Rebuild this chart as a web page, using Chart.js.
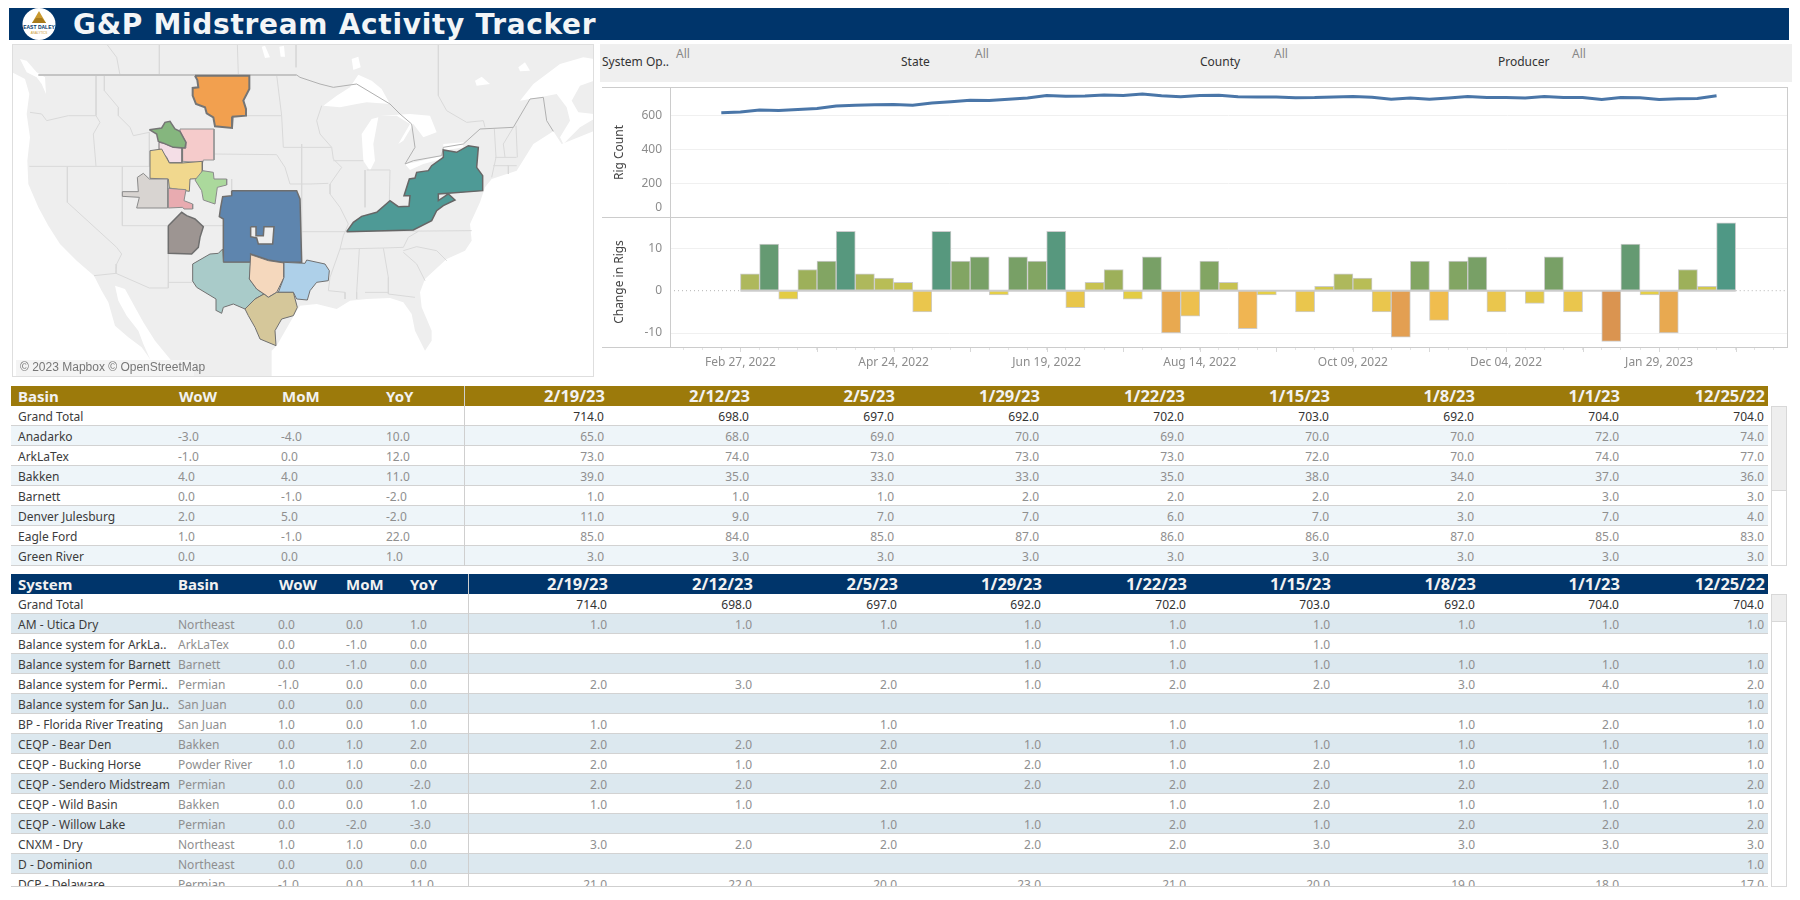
<!DOCTYPE html>
<html><head><meta charset="utf-8">
<script src="https://cdn.jsdelivr.net/npm/chart.js@4"></script>
<style>
html,body{margin:0;padding:0;background:#fff;width:1800px;height:900px;overflow:hidden;font-family:"Noto Sans",sans-serif}
.abs{position:absolute}
canvas{position:absolute;display:block}
.t{position:absolute;white-space:nowrap;line-height:20px;height:20px}
</style></head><body>
<div id="page"></div>
<script>
/* ---------- chart data ---------- */
const weekDates=['2022-02-20','2022-02-27','2022-03-06','2022-03-13','2022-03-20','2022-03-27','2022-04-03','2022-04-10','2022-04-17','2022-04-24','2022-05-01','2022-05-08','2022-05-15','2022-05-22','2022-05-29','2022-06-05','2022-06-12','2022-06-19','2022-06-26','2022-07-03','2022-07-10','2022-07-17','2022-07-24','2022-07-31','2022-08-07','2022-08-14','2022-08-21','2022-08-28','2022-09-04','2022-09-11','2022-09-18','2022-09-25','2022-10-02','2022-10-09','2022-10-16','2022-10-23','2022-10-30','2022-11-06','2022-11-13','2022-11-20','2022-11-27','2022-12-04','2022-12-11','2022-12-18','2022-12-25','2023-01-01','2023-01-08','2023-01-15','2023-01-22','2023-01-29','2023-02-05','2023-02-12','2023-02-19'];
const rigCount=[615,619,630,628,633,640,654,658,661,663,658,672,679,687,686,694,701,715,711,713,718,716,724,714,708,715,717,708,707,707,702,703,707,710,705,694,701,694,701,709,704,704,701,709,704,704,692,703,702,692,697,698,714];
const rigChange=[null,4,11,-2,5,7,14,4,3,2,-5,14,7,8,-1,8,7,14,-4,2,5,-2,8,-10,-6,7,2,-9,-1,0,-5,1,4,3,-5,-11,7,-7,7,8,-5,0,-3,8,-5,0,-12,11,-1,-10,5,1,16];
const rigTicks=[0,200,400,600];
const changeTicks=[-10,0,10];

/* ---------- table data ---------- */
const tableDates=['2/19/23','2/12/23','2/5/23','1/29/23','1/22/23','1/15/23','1/8/23','1/1/23','12/25/22'];
const grandTotal=[714,698,697,692,702,703,692,704,704];
const basinNames=['Anadarko','ArkLaTex','Bakken','Barnett','Denver Julesburg','Eagle Ford','Green River'];
const basinDeltas=[[-3,-4,10],[-1,0,12],[4,4,11],[0,-1,-2],[2,5,-2],[1,-1,22],[0,0,1]];
const basinWeekly=[
[65,68,69,70,69,70,70,72,74],
[73,74,73,73,73,72,70,74,77],
[39,35,33,33,35,38,34,37,36],
[1,1,1,2,2,2,2,3,3],
[11,9,7,7,6,7,3,7,4],
[85,84,85,87,86,86,87,85,83],
[3,3,3,3,3,3,3,3,3]];
const systemNames=['AM - Utica Dry','Balance system for ArkLa..','Balance system for Barnett','Balance system for Permi..','Balance system for San Ju..','BP - Florida River Treating','CEQP - Bear Den','CEQP - Bucking Horse','CEQP - Sendero Midstream','CEQP - Wild Basin','CEQP - Willow Lake','CNXM - Dry','D - Dominion','DCP - Delaware'];
const systemBasins=['Northeast','ArkLaTex','Barnett','Permian','San Juan','San Juan','Bakken','Powder River','Permian','Bakken','Permian','Northeast','Northeast','Permian'];
const systemDeltas=[[0,0,1],[0,-1,0],[0,-1,0],[-1,0,0],[0,0,0],[1,0,1],[0,1,2],[1,1,0],[0,0,-2],[0,0,1],[0,-2,-3],[1,1,0],[0,0,0],[-1,0,11]];
const _=null;
const systemWeekly=[
[1,1,1,1,1,1,1,1,1],
[_,_,_,1,1,1,_,_,_],
[_,_,_,1,1,1,1,1,1],
[2,3,2,1,2,2,3,4,2],
[_,_,_,_,_,_,_,_,1],
[1,_,1,_,1,_,1,2,1],
[2,2,2,1,1,1,1,1,1],
[2,1,2,2,1,2,1,1,1],
[2,2,2,2,2,2,2,2,2],
[1,1,_,_,1,2,1,1,1],
[_,_,1,1,2,1,2,2,2],
[3,2,2,2,2,3,3,3,3],
[_,_,_,_,_,_,_,_,1],
[21,22,20,23,21,20,19,18,17]];

/* ---------- map geometry, in map units (flat x,y lists) ---------- */
const waterPacific=[6,85,45,105,58,150,50,210,60,280,52,350,55,420,85,490,115,545,150,600,200,650,252,695,275,740,295,775,315,845,355,880,395,910,420,945,430,999,6,999];
const waterCalifornia=[315,725,345,735,375,790,400,835,435,890,480,945,515,999,430,999,420,945,400,900,385,860,350,815,325,770];
const waterPuget=[30,45,50,50,80,85,105,100,108,150,95,120,80,100,50,85];
const waterAtlantic=[785,999,785,920,800,905,860,800,870,785,920,780,980,795,1020,770,1070,765,1140,762,1180,775,1205,810,1215,860,1245,920,1265,890,1265,860,1235,790,1230,745,1245,705,1310,645,1365,620,1385,590,1380,540,1410,475,1425,430,1445,405,1520,380,1570,300,1630,262,1655,300,1750,262,1752,999];
const waterStLawrence=[1530,170,1570,120,1650,60,1720,40,1752,45,1752,110,1710,125,1685,170,1705,205,1752,210,1752,225,1710,250,1660,300,1650,280,1680,230,1670,190,1640,150,1590,160];
const lakeSuperior=[940,185,980,155,1020,130,1045,92,1085,110,1115,135,1140,180,1070,175,1040,180,990,190];
const lakeMichigan=[1060,350,1055,270,1085,225,1105,220,1090,300,1095,350,1080,380];
const lakeHuron=[1110,215,1200,210,1260,215,1280,265,1240,280,1210,240,1180,290,1165,300,1200,240,1160,215];
const lakeErie=[1185,360,1215,355,1295,335,1295,345,1240,360,1200,378];
const lakeOntario=[1300,300,1360,295,1360,310,1300,320];
const lakeNipigon=[1025,45,1045,38,1052,70,1030,78];
const lakeNorthA=[1395,110,1415,98,1440,120,1400,125];
const lakeNorthB=[1525,70,1545,55,1560,80,1530,82];
const lakeWest=[755,8,765,5,780,40,765,42];
const lakeWestB=[808,8,822,5,825,38,812,38];
const landWaterShapes=[waterPacific,waterCalifornia,waterPuget,waterAtlantic,waterStLawrence,lakeSuperior,lakeMichigan,lakeHuron,lakeErie,lakeOntario,lakeNipigon,lakeNorthA,lakeNorthB,lakeWest,lakeWestB];
const countryBorders=[
[85,93,860,93],
[860,93,870,100,930,120,970,130,1040,120,1140,180,1170,210,1205,240,1215,310,1185,360,1210,350,1295,335,1300,310,1360,300,1410,255,1510,250,1560,165,1600,160,1610,230,1630,262]];
const stateBorders=[
[60,205,95,210,110,230,175,215,258,215],
[258,93,258,215,270,235,250,270,258,367],
[283,93,283,140,325,190,325,215,360,250,370,275,418,265,418,367],
[58,367,420,367],
[172,367,172,475,320,610,335,630,320,660,318,690],
[337,367,337,545],
[337,545,640,545],
[252,695,318,688,418,732,475,732,475,715,547,715],
[475,545,475,732],
[612,330,800,332,825,370,840,420,900,420,955,418],
[708,215,815,215],
[800,93,815,215,820,310,900,310,965,310],
[665,405,665,440],
[448,0,448,93],[682,0,685,93],[290,0,320,40,330,93],[858,0,858,70],
[640,545,870,563,990,563,1010,563,1385,560],
[935,185,920,230,930,270,965,310,970,345,995,370,960,420,960,450,990,490,1015,540,1000,575,990,615,960,700,955,740,1005,745,1005,765],
[970,350,1060,350],[1065,378,1065,490],[1070,378,1140,378,1138,470],
[990,615,1120,612,1180,610,1195,580,1225,562],
[1048,615,1040,745,1040,765],[1120,612,1135,700,1135,750,1215,760],[1065,745,1135,745],
[1180,620,1220,608,1280,620,1310,650],[1245,710,1220,660,1180,625],
[1285,0,1285,155,1310,200,1370,235,1420,230,1425,250],
[1453,255,1458,340,1445,400],[1455,340,1520,340],[1450,365,1520,365],[1485,340,1480,300,1510,250],[1518,245,1522,340],[1495,365,1495,390],
[875,300,875,655],[890,650,890,730]];
const basinBakken=[555,95,718,95,718,135,700,170,708,195,708,215,668,218,666,252,615,247,610,220,590,208,585,190,558,180,548,155,548,132,565,130,562,108];
const basinBigHorn=[418,257,455,252,465,235,480,232,495,255,510,262,528,295,525,312,490,310,462,298,445,292,440,270];
const basinPowder=[510,255,612,255,612,348,580,348,578,356,518,352,518,312,528,312,528,295,510,262];
const basinGreenRiver=[447,295,462,298,490,310,516,312,516,356,478,356,470,340,448,315];
const basinDenver=[420,320,455,315,478,357,516,357,577,352,577,403,540,405,538,442,478,432,475,405,420,403];
const basinNiobrara=[555,408,578,380,610,385,612,405,650,405,650,423,622,430,615,480,580,468,575,440];
const basinUinta=[337,443,385,443,382,400,400,388,418,405,473,405,473,492,380,492,388,460,337,457];
const basinPiceance=[475,433,528,437,522,470,548,480,548,495,522,495,518,490,475,492];
const basinSanJuan=[475,545,515,505,530,515,555,525,580,548,570,580,565,610,545,630,475,628];
const basinAnadarko=[665,440,860,440,870,465,875,655,815,655,775,648,722,630,722,655,640,655,640,525,628,518,632,490,638,458,665,455];
const basinAnadarkoHole=[722,548,738,548,738,575,760,575,762,548,792,548,788,600,745,600,740,582,722,578];
const basinPermian=[548,660,600,630,625,628,638,615,640,655,722,655,718,705,740,735,762,750,735,765,705,795,670,780,640,790,635,808,620,800,618,765,560,730,547,710];
const basinBarnett=[722,632,775,650,822,657,822,700,800,745,775,760,762,750,740,735,718,705];
const basinArkLaTex=[822,655,885,658,890,648,945,660,958,680,955,710,920,715,900,740,892,768,860,765,850,745,805,745,822,700];
const basinEagleFord=[705,795,735,765,762,750,775,760,800,745,850,745,862,790,850,815,815,825,795,860,798,905,750,885,735,850,715,815];
const basinNortheast=[1010,563,1030,535,1055,517,1100,505,1140,470,1165,488,1197,487,1200,455,1182,455,1198,405,1215,402,1220,385,1255,380,1265,365,1300,340,1300,318,1340,325,1375,305,1405,310,1400,370,1418,395,1418,440,1285,450,1285,470,1315,450,1335,468,1300,485,1280,500,1265,530,1210,558];
const basinShapes=[
 [basinBakken,'#f2a04f','#757575',2],
 [basinPowder,'#f5cbcb','#969696',1],
 [basinGreenRiver,'#f4dee6','#757575',1],
 [basinBigHorn,'#85b67e','#757575',1.5],
 [basinDenver,'#f1d88e','#757575',1],
 [basinNiobrara,'#abd99c','#8a8a8a',1],
 [basinUinta,'#d8d4d1','#8a8a8a',1],
 [basinPiceance,'#e8abb0','#8a8a8a',1],
 [basinSanJuan,'#9d9592','#6e6e6e',1.5],
 [basinAnadarko,'#5e85ae','#6e6e6e',1.5],
 [basinAnadarkoHole,'#efefef','#6e6e6e',1.5],
 [basinPermian,'#a9cbc9','#707070',1],
 [basinBarnett,'#f5d8bd','#707070',1],
 [basinArkLaTex,'#aed0e9','#707070',1],
 [basinEagleFord,'#d5c79a','#707070',1],
 [basinNortheast,'#4e9a96','#666',1.5]];

/* ---------- styles ---------- */
const changeColors={'-12':'#da9450','-11':'#e39f52','-10':'#e8a950','-9':'#f0b552','-7':'#f0bd4e','-6':'#edc04e','-5':'#eac64d','-4':'#e8c64a','-3':'#e3c849','-2':'#e3cc44','-1':'#e5cf47','0':'#cccccc','1':'#d2c84c','2':'#c7c250','3':'#b8bd56','4':'#aeb85c','5':'#9db05a','7':'#82a563','8':'#78a066','11':'#659a72','14':'#57987e','16':'#4f9885'};
const FONT='"Noto Sans"';
const GRID='#f0f0f0',LINE='#cccccc';
const page=document.getElementById('page');
function box(l,t,w,h,bg,extra){const d=document.createElement('div');d.className='abs';d.style.cssText+=`left:${l}px;top:${t}px;width:${w}px;height:${h}px;background:${bg};${extra||''}`;page.appendChild(d);return d;}
function text(parent,str,x,y,opts){opts=opts||{};const s=document.createElement('div');s.className='t';s.textContent=str;
 s.style.top=y+'px';
 if(opts.right!==undefined){s.style.right=(opts.parentW-opts.right)+'px';}else s.style.left=x+'px';
 s.style.fontSize=(opts.size||12)+'px';s.style.color=opts.color||'#444';if(opts.bold)s.style.fontWeight='700';
 if(opts.family)s.style.fontFamily=opts.family;if(opts.ls)s.style.letterSpacing=opts.ls;
 parent.appendChild(s);return s;}
function canvasAt(l,t,w,h){const c=document.createElement('canvas');c.width=w;c.height=h;c.style.left=l+'px';c.style.top=t+'px';c.style.width=w+'px';c.style.height=h+'px';page.appendChild(c);return c.getContext('2d');}
Chart.defaults.animation=false;
Chart.defaults.font.family=FONT;
Chart.defaults.responsive=false;

/* ---------- title ---------- */
box(9,8,1780,32,'#00356b');
const logo=document.createElement('div');logo.className='abs';logo.style.cssText='left:22px;top:8px;width:34px;height:32px';
logo.innerHTML='<svg width="34" height="32" viewBox="0 0 34 32"><ellipse cx="17" cy="16" rx="16.5" ry="16" fill="#fff"/><path d="M17 3 L10 15 L24 15 Z" fill="#c9992f"/><path d="M14 10 L20 10 L24 15 L10 15 Z" fill="#a87a1c"/><text x="17" y="20.5" font-size="5" font-weight="700" text-anchor="middle" fill="#00356b" font-family="Liberation Sans">EAST DALEY</text><text x="17" y="25.5" font-size="3" text-anchor="middle" fill="#c9992f" font-family="Liberation Sans">ANALYTICS</text></svg>';
page.appendChild(logo);
const titleEl=text(page,'G&P Midstream Activity Tracker',73,9,{size:28,bold:true,color:'#f3f5f7',family:'"DejaVu Sans"',ls:'0.7px'});
titleEl.style.lineHeight='32px';titleEl.style.height='32px';

/* ---------- filters ---------- */
box(600,44,1192,38,'#efefef');
const filterLabels=[['System Op..',602,676],['State',901,975],['County',1200,1274],['Producer',1498,1572]];
filterLabels.forEach(([lab,x,ax])=>{text(page,lab,x,52,{size:12,color:'#333'});text(page,'All',ax,44,{size:12,color:'#888'});});

/* ---------- map ---------- */
box(12,44,582,333,'#eeeeee');
const pts=f=>{const o=[];for(let i=0;i<f.length;i+=2)o.push({x:f[i],y:f[i+1]});return o;};
const closed=f=>pts(f.concat([f[0],f[1]]));
const mapDs=[];
landWaterShapes.forEach(s=>mapDs.push({data:closed(s),backgroundColor:'#ffffff',borderWidth:0,fill:'shape',pointRadius:0}));
stateBorders.forEach(s=>mapDs.push({data:pts(s),borderColor:'#d9d9d9',borderWidth:1,fill:false,pointRadius:0}));
countryBorders.forEach((s,i)=>mapDs.push({data:pts(s),borderColor:i?'#b0b0b0':'#c4c4c4',borderWidth:i?1:2,fill:false,pointRadius:0}));
basinShapes.forEach(([s,c,b,w])=>mapDs.push({data:closed(s),backgroundColor:c,borderColor:b,borderWidth:w,fill:'shape',pointRadius:0}));
mapDs.forEach((d,i)=>{d.order=mapDs.length-i;d.showLine=true;d.tension=0;});
new Chart(canvasAt(12,44,582,333),{type:'scatter',data:{datasets:mapDs},options:{
 layout:{padding:0},plugins:{legend:{display:false},tooltip:{enabled:false}},
 scales:{x:{type:'linear',min:6,max:1752,display:false},y:{type:'linear',min:0,max:999,reverse:true,display:false}}}});
box(12,44,580,331,'transparent','border:1px solid #dedede;');
box(16,360,178,16,'#f4f4f4');
text(page,'© 2023 Mapbox © OpenStreetMap',20,357,{size:12,color:'#777',family:'"Liberation Sans"'});

/* ---------- weekly charts ---------- */
const DAY=86400000,WEEK=7*DAY;
const toMs=s=>Date.parse(s+'T00:00:00Z');
const axisAnchor=toMs('2022-02-27');
const axisMin=axisAnchor-3.68*WEEK,axisMax=axisAnchor+54.68*WEEK;
const months=['Jan','Feb','Mar','Apr','May','Jun','Jul','Aug','Sep','Oct','Nov','Dec'];
const fmtDate=v=>{const d=new Date(v);return months[d.getUTCMonth()]+' '+String(d.getUTCDate()).padStart(2,'0')+', '+d.getUTCFullYear();};
const weekOf=v=>Math.round((v-axisAnchor)/WEEK);
const tickFont={size:12,family:FONT};
const noPad=s=>{s.paddingTop=0;s.paddingBottom=0;s.paddingLeft=0;s.paddingRight=0;};
const yAxis=(title,min,max,padTitle)=>({type:'linear',min,max,
 afterFit(s){s.width=68;noPad(s);},
 border:{display:false},
 grid:{color:GRID,lineWidth:1,drawTicks:false},
 title:{display:true,text:title,color:'#444',font:{size:12,family:FONT},padding:{top:padTitle,bottom:0}},
 ticks:{stepSize:1,includeBounds:false,padding:8,color:'#8c8c8c',font:tickFont}});

/* Top: rig count */
const topY=yAxis('Rig Count',0,765,10);
topY.afterBuildTicks=s=>{s.ticks=rigTicks.map(v=>({value:v}));};
topY.ticks.callback=v=>v===0?'':String(v);
const zeroLabel={id:'zeroLabel',afterDraw(c){const s=c.scales.y,g=c.ctx;g.save();g.font='12px '+FONT;g.fillStyle='#8c8c8c';g.textAlign='right';g.textBaseline='middle';g.fillText('0',s.right-8,s.getPixelForValue(0)-10);g.restore();}};
new Chart(canvasAt(602,87,1186,131),{type:'line',
 data:{datasets:[{data:weekDates.map((d,i)=>({x:toMs(d),y:rigCount[i]})),borderColor:'#4a76a8',borderWidth:3,pointRadius:0,tension:0,fill:false,clip:false}]},
 options:{layout:{padding:{left:0,right:1,top:0,bottom:0}},plugins:{legend:{display:false},tooltip:{enabled:false}},
 scales:{x:{type:'linear',min:axisMin,max:axisMax,display:false},y:topY}},plugins:[zeroLabel]});

/* Bottom: change in rigs */
const botY=yAxis('Change in Rigs',-13.3,17.4,10);
botY.afterBuildTicks=s=>{s.ticks=changeTicks.map(v=>({value:v}));};
botY.ticks.callback=v=>String(v);
botY.grid.color=c=>c.tick&&c.tick.value===0?'rgba(0,0,0,0)':GRID;
const longTicks={id:'longTicks',afterDraw(c){const s=c.scales.x,g=c.ctx;g.save();g.strokeStyle='#d8d8d8';g.lineWidth=1;
 for(let k=-3;k<=54;k++){if(k%4!==0)continue;const x=Math.round(s.getPixelForValue(axisAnchor+k*WEEK))+.5;g.beginPath();g.moveTo(x,s.top);g.lineTo(x,s.top+5);g.stroke();}g.restore();}};
const firstBarMs=toMs('2022-02-27'),lastBarEndMs=toMs('2023-02-26');
const barData=weekDates.map((d,i)=>({x:toMs(d),y:rigChange[i]})).filter(p=>p.y!==null);
new Chart(canvasAt(602,217,1186,163),{type:'bar',
 data:{datasets:[
  {type:'line',xAxisID:'x',data:[{x:firstBarMs,y:0},{x:lastBarEndMs,y:0}],borderColor:LINE,borderWidth:2,pointRadius:0,fill:false,order:3},
  {type:'line',xAxisID:'x',data:[{x:axisMin,y:0},{x:firstBarMs,y:0}],borderColor:'#b5b5b5',borderWidth:1,borderDash:[1,3],pointRadius:0,fill:false,order:1},
  {type:'line',xAxisID:'x',data:[{x:lastBarEndMs,y:0},{x:axisMax,y:0}],borderColor:'#b5b5b5',borderWidth:1,borderDash:[1,3],pointRadius:0,fill:false,order:1},
  {type:'bar',xAxisID:'xb',grouped:false,data:barData,backgroundColor:barData.map(p=>changeColors[String(p.y)]),borderColor:LINE,borderWidth:1,borderSkipped:false,barPercentage:1,categoryPercentage:1,order:2}]},
 options:{layout:{padding:{left:0,right:1,top:0,bottom:0}},plugins:{legend:{display:false},tooltip:{enabled:false}},
 scales:{
  x:{type:'linear',offset:false,min:axisMin,max:axisMax,
   afterFit(s){s.height=33;noPad(s);},
   afterBuildTicks(s){const out=[];for(let k=-3;k<=54;k++)out.push({value:axisAnchor+k*WEEK});s.ticks=out;},
   border:{display:false},
   grid:{offset:false,drawOnChartArea:false,tickLength:3,tickColor:'#e4e4e4'},
   ticks:{autoSkip:false,maxRotation:0,minRotation:0,padding:5,color:'#8c8c8c',font:tickFont,callback:v=>{const k=weekOf(v);return k>=0&&k%8===0&&k<=48?fmtDate(v):'';}}},
  xb:{type:'linear',offset:false,display:false,min:axisMin-WEEK/2,max:axisMax-WEEK/2,
   afterBuildTicks(s){s.ticks=[{value:axisAnchor}];}},
  y:botY}},plugins:[longTicks]});

/* Frame lines for the chart panel */
box(602,87,1186,1,LINE);box(602,217,1186,1,LINE);box(602,347,1186,1,LINE);
box(670,87,1,261,LINE);box(1787,87,1,261,LINE);

/* ---------- tables ---------- */
const fmt=v=>v===null||v===undefined?'':v.toFixed(1);
function buildTable(cfg){
 const W=1757,left=11;
 const wrap=box(left,cfg.top,W,cfg.height,'transparent','overflow:hidden;');
 const hdr=box(0,0,W,20,cfg.headerBg);wrap.appendChild(hdr);
 cfg.headCols.forEach(([lab,x])=>text(hdr,lab,x-left,0,{size:15,bold:true,color:'#f2f2f2'}));
 tableDates.forEach((d,i)=>text(hdr,d,0,0,{size:16.5,bold:true,color:'#f2f2f2',right:cfg.valueRights[i]-left+1,parentW:W}));
 const div=box(cfg.divider-left,0,1,cfg.height,'#cfcfcf');
 const rows=[{name:'Grand Total',sub:null,delta:[null,null,null],vals:grandTotal,grand:true}].concat(cfg.rows);
 rows.forEach((r,i)=>{
  const rowEl=box(0,20+i*20,W,20,r.grand||i%2===0?'#ffffff':cfg.band,'border-bottom:1px solid #d2d2d2;box-sizing:border-box;');
  wrap.appendChild(rowEl);
  text(rowEl,r.name,cfg.nameX-left,1,{size:12,color:'#3c3c3c'});
  if(r.sub)text(rowEl,r.sub,cfg.subX-left,1,{size:12,color:'#8f8f8f'});
  r.delta.forEach((v,j)=>{if(v!==null)text(rowEl,fmt(v),cfg.deltaX[j]-left,1,{size:12,color:'#8f8f8f'});});
  r.vals.forEach((v,j)=>{if(v!==null)text(rowEl,fmt(v),0,1,{size:12,color:r.grand?'#333':'#8f8f8f',right:cfg.valueRights[j]-left,parentW:W});});
 });
 wrap.appendChild(div);
 box(1771,cfg.top+20,16,cfg.height-20,'#fff','border:1px solid #d8d8d8;box-sizing:border-box;');
 box(1771,cfg.top+20,16,cfg.thumb,'#eeeeee','border:1px solid #d8d8d8;box-sizing:border-box;');
}
buildTable({top:386,height:180,headerBg:'#9c7a0b',band:'#eef5f9',divider:464,nameX:18,subX:0,
 headCols:[['Basin',18],['WoW',179],['MoM',282],['YoY',386]],deltaX:[178,281,386],
 valueRights:[604,749,894,1039,1184,1329,1474,1619,1764],thumb:85,
 rows:basinNames.map((n,i)=>({name:n,sub:null,delta:basinDeltas[i],vals:basinWeekly[i]}))});
buildTable({top:574,height:313,headerBg:'#00356b',band:'#dce8ef',divider:468,nameX:18,subX:178,
 headCols:[['System',18],['Basin',178],['WoW',279],['MoM',346],['YoY',410]],deltaX:[278,346,410],
 valueRights:[607,752,897,1041,1186,1330,1475,1619,1764],thumb:28,
 rows:systemNames.map((n,i)=>({name:n,sub:systemBasins[i],delta:systemDeltas[i],vals:systemWeekly[i]}))});
box(11,886,1757,1,'#cfcfcf');
</script>
</body></html>
